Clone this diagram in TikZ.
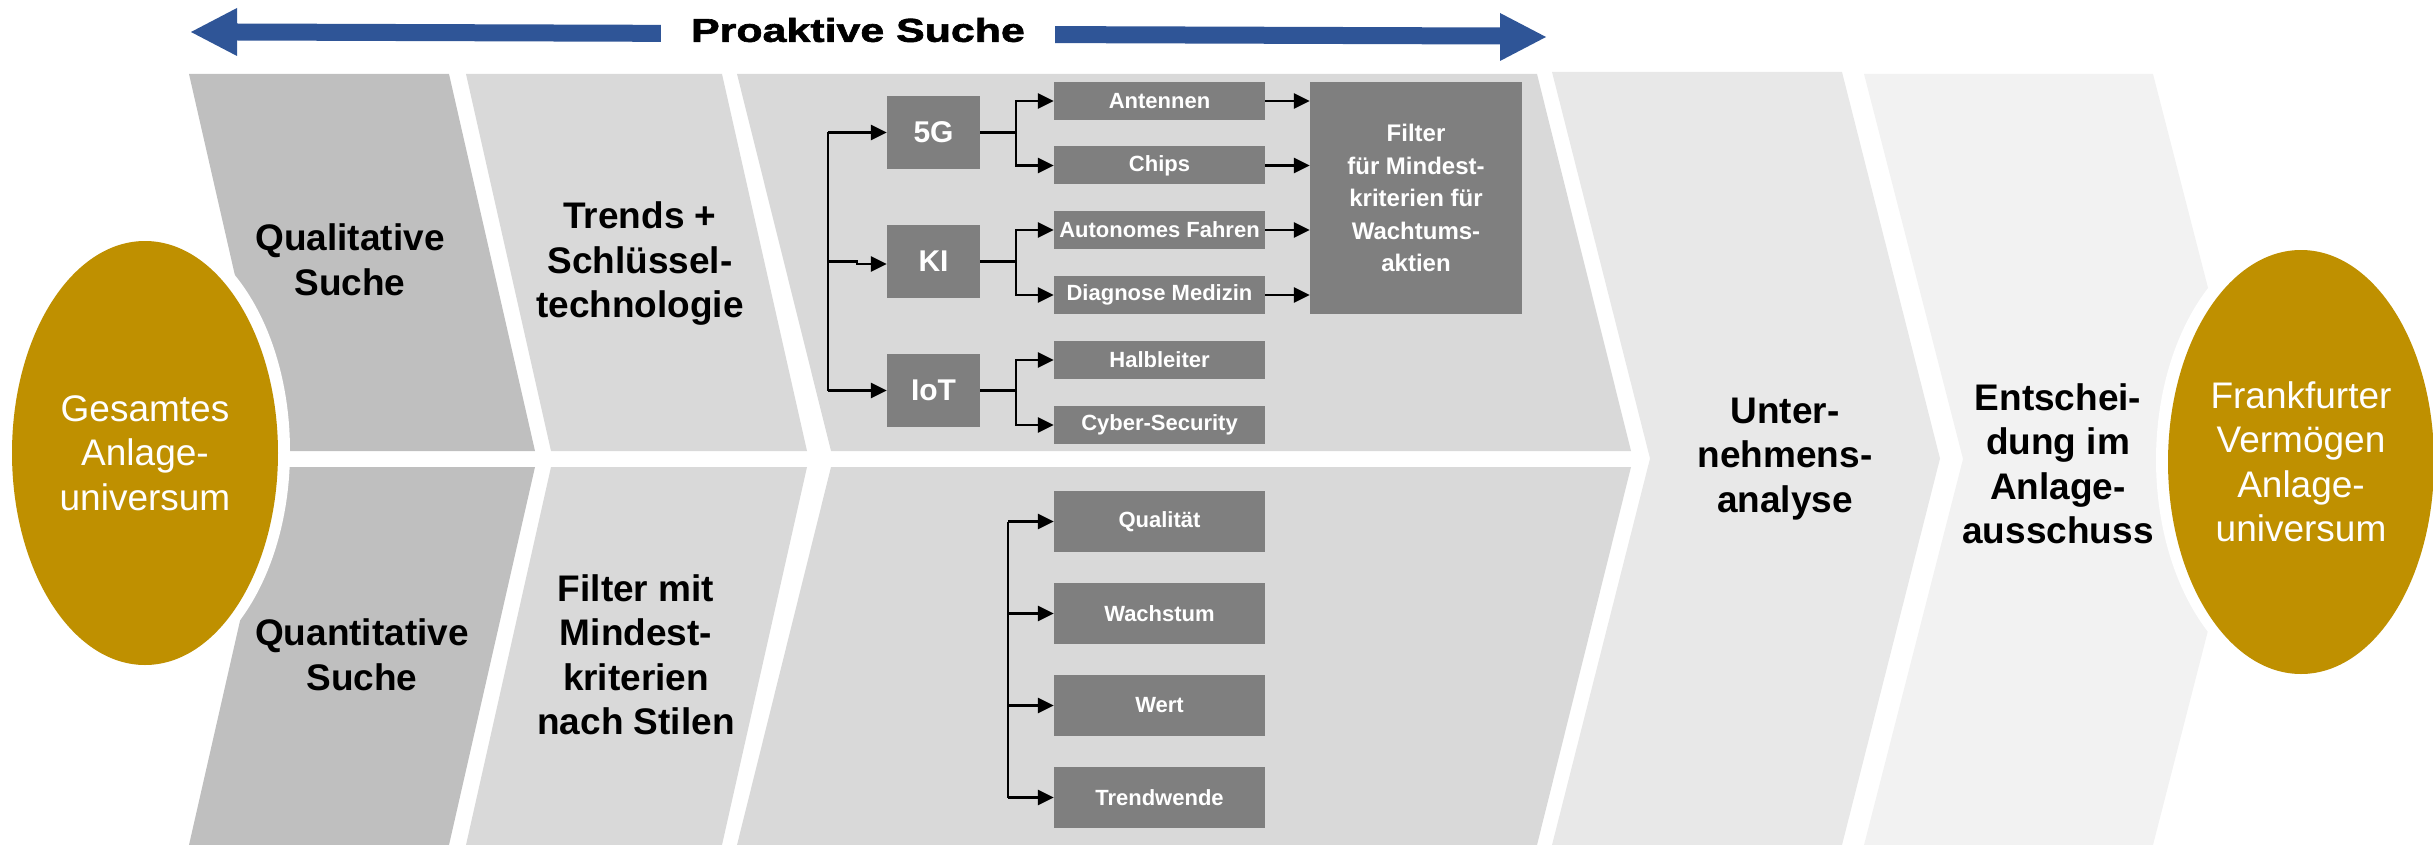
\documentclass[tikz,border=0pt]{standalone}
\usepackage{fontspec}
\setmainfont{Liberation Sans}
\newfontfamily\heavyfont{Liberation Sans}[FakeStretch=1.3, BoldFeatures={FakeBold=2}]
\usetikzlibrary{arrows.meta,shapes.geometric}
\definecolor{gold}{HTML}{BF9000}
\definecolor{colA}{HTML}{BFBFBF}
\definecolor{colB}{HTML}{D9D9D9}
\definecolor{colC}{HTML}{E8E8E8}
\definecolor{colD}{HTML}{F2F2F2}
\definecolor{boxgray}{HTML}{7F7F7F}
\definecolor{arrblue}{HTML}{2F5597}
\tikzset{
 lbl/.style={align=center, font=\bfseries\fontsize{37}{44.5}\selectfont, inner sep=0},
 ell/.style={ellipse, fill=gold, text=white, minimum width=266pt, minimum height=424pt, inner sep=0, align=center, font=\fontsize{37}{44.5}\selectfont},
 sbox/.style={fill=boxgray, text=white, font=\bfseries\fontsize{22}{26}\selectfont, minimum width=211pt, minimum height=38pt, inner sep=0},
 tbox/.style={fill=boxgray, text=white, font=\bfseries\fontsize{30}{36}\selectfont, minimum width=93pt, minimum height=73pt, inner sep=0},
 lbox/.style={sbox, minimum height=61pt},
 fbox/.style={fill=boxgray, text=white, align=center, font=\bfseries\fontsize{24}{32.5}\selectfont, minimum width=212pt, minimum height=232pt, inner sep=0},
 con/.style={line width=2.5pt, black},
 arr/.style={con, -{Triangle[length=16pt,width=15pt]}},
}
\begin{document}
\begin{tikzpicture}[x=1pt,y=-1pt]
\useasboundingbox (0,0) rectangle (2433,845);
% top double arrow
\fill[arrblue] (191,32) -- (237,8) -- (237,23.5) -- (1500,27.5) -- (1500,13) -- (1546,37)
  -- (1500,61) -- (1500,44.5) -- (237,40.5) -- (237,56) -- cycle;
\node[fill=white, inner xsep=30pt, inner ysep=14pt, font=\heavyfont\bfseries\fontsize{33}{33}\selectfont] (pro) at (858,30) {Proaktive Suche};
% columns
\fill[colA] (189,74) -- (449,74) -- (535,451) -- (275,451) -- cycle;
\fill[colA] (275,467) -- (535,467) -- (449,845) -- (189,845) -- cycle;
\fill[colB] (466,74) -- (722,74) -- (807,451) -- (551,451) -- cycle;
\fill[colB] (551,467) -- (807,467) -- (722,845) -- (466,845) -- cycle;
\fill[colB] (737,74) -- (1537,74) -- (1631,451) -- (831,451) -- cycle;
\fill[colB] (831,467) -- (1631,467) -- (1537,845) -- (737,845) -- cycle;
\fill[colC] (1552,72) -- (1842,72) -- (1940,458.5) -- (1842,845) -- (1552,845) -- (1650,458.5) -- cycle;
\fill[colD] (1864,74) -- (2153,74) -- (2252,459) -- (2153,845) -- (1864,845) -- (1963,459) -- cycle;
% ellipses
\fill[white] (145,451) ellipse [x radius=145pt, y radius=224pt];
\fill[white] (2301,460) ellipse [x radius=145pt, y radius=224pt];
\node[ell] (ges) at (145,453) {Gesamtes\\Anlage-\\universum};
\node[ell] (fvm) at (2301,462) {Frankfurter\\Vermögen\\Anlage-\\universum};
% column labels
\node[lbl] (qual) at (350,260) {Qualitative\\Suche};
\node[lbl] (trend) at (640,264) {Trends +\\Schlüssel-\\technologie};
\node[lbl] (quant) at (362,655) {Quantitative\\Suche};
\node[lbl] (filtm) at (636,655) {Filter mit\\Mindest-\\kriterien\\nach Stilen};
\node[lbl] (unter) at (1785,459) {Unter-\\nehmens-\\analyse};
\node[lbl] (entsch) at (2058,464) {Entschei-\\dung im\\Anlage-\\ausschuss};
% upper tree
\node[tbox] (g5) at (933.5,132.5) {5G};
\node[tbox] (ki) at (933.5,261.5) {KI};
\node[tbox] (iot) at (933.5,390.5) {IoT};
\node[sbox] (ant) at (1159.5,101) {Antennen};
\node[sbox] (chip) at (1159.5,165.5) {Chips};
\node[sbox] (auto) at (1159.5,230) {Autonomes Fahren};
\node[sbox] (diag) at (1159.5,295) {Diagnose Medizin};
\node[sbox] (halb) at (1159.5,360) {Halbleiter};
\node[sbox] (cyber) at (1159.5,425) {Cyber-Security};
\node[fbox] (filt) at (1416,198) {Filter\\für Mindest-\\kriterien für\\Wachtums-\\aktien};
\coordinate (tr) at (828,0);
\coordinate (br) at (1016,0);
\draw[con] (tr |- g5.west) -- (tr |- iot.west);
\draw[arr] (tr |- g5.west) -- (g5.west);
\draw[arr] (tr |- ki.west) -- ++(29,0) |- ([yshift=-2.5pt]ki.west);
\draw[arr] (tr |- iot.west) -- (iot.west);
\draw[arr] (g5.east) -- (g5.east -| br) |- (ant.west);
\draw[arr] (g5.east -| br) |- (chip.west);
\draw[arr] (ki.east) -- (ki.east -| br) |- (auto.west);
\draw[arr] (ki.east -| br) |- (diag.west);
\draw[arr] (iot.east) -- (iot.east -| br) |- (halb.west);
\draw[arr] (iot.east -| br) |- (cyber.west);
\draw[arr] (ant.east) -- (ant.east -| filt.west);
\draw[arr] (chip.east) -- (chip.east -| filt.west);
\draw[arr] (auto.east) -- (auto.east -| filt.west);
\draw[arr] (diag.east) -- (diag.east -| filt.west);
% lower tree
\node[lbox] (qa) at (1159.5,521.5) {Qualität};
\node[lbox] (wa) at (1159.5,613.5) {Wachstum};
\node[lbox] (we) at (1159.5,705.5) {Wert};
\node[lbox] (tw) at (1159.5,797.5) {Trendwende};
\coordinate (lt) at (1008,0);
\draw[con] (lt |- qa.west) -- (lt |- tw.west);
\draw[arr] (lt |- qa.west) -- (qa.west);
\draw[arr] (lt |- wa.west) -- (wa.west);
\draw[arr] (lt |- we.west) -- (we.west);
\draw[arr] (lt |- tw.west) -- (tw.west);
\end{tikzpicture}
\end{document}
